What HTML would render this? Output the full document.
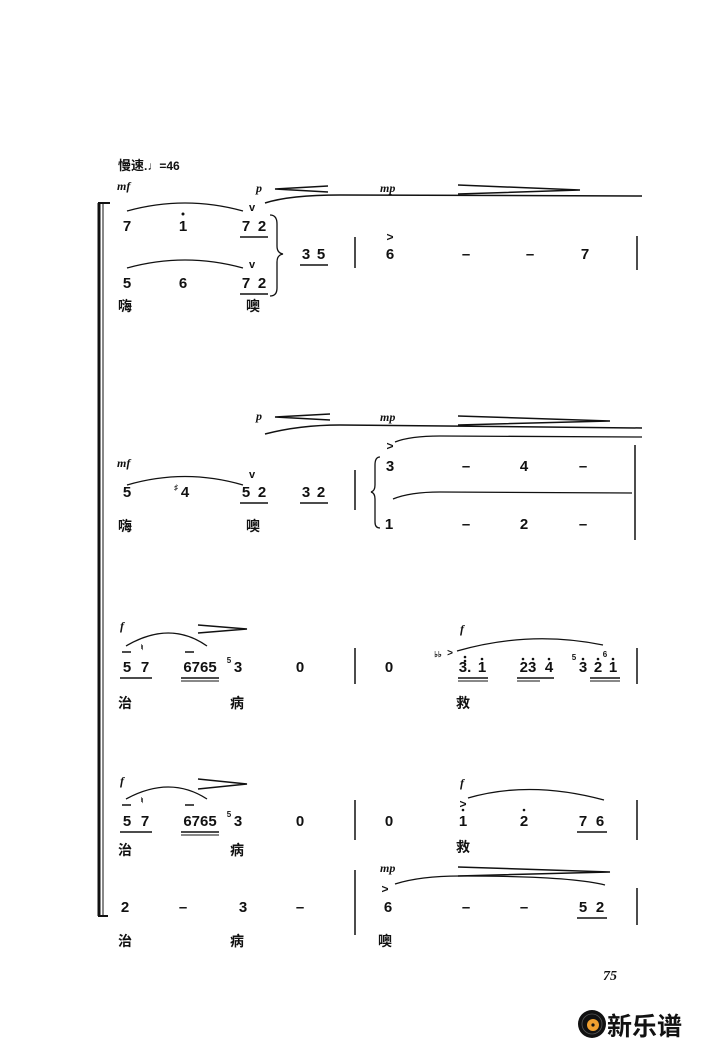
<!DOCTYPE html>
<html><head><meta charset="utf-8"><style>
html,body{margin:0;padding:0;background:#fff}
svg{display:block}
.n{font:bold 15px "Liberation Sans",sans-serif;text-anchor:middle;fill:#111}
.c{font:bold 14px "Liberation Sans","Noto Sans CJK SC",sans-serif;text-anchor:middle;fill:#111}
.d{font:italic bold 12px "Liberation Serif",serif;fill:#111}
.s{font:bold 8px "Liberation Sans",sans-serif;text-anchor:middle;fill:#111}
path,line{stroke:#111;fill:none}
</style></head><body>
<svg width="710" height="1048" viewBox="0 0 710 1048" xmlns="http://www.w3.org/2000/svg">
<!-- big left bracket -->
<line x1="99" y1="203" x2="99" y2="916" stroke-width="3"/>
<line x1="103" y1="203" x2="103" y2="916" stroke-width="1"/>
<line x1="98" y1="203" x2="110" y2="203" stroke-width="2"/>
<line x1="98" y1="916" x2="108" y2="916" stroke-width="2"/>

<!-- System 1 -->
<text x="118" y="170" class="c" style="text-anchor:start;font-size:13px">慢速<tspan font-size="12">.♩=46</tspan></text>
<text x="117" y="190" class="d">mf</text>
<text x="256" y="192" class="d">p</text>
<path d="M328 186 L275 189 L328 192" stroke-width="1.5"/>
<text x="380" y="192" class="d">mp</text>
<path d="M458 185 L580 190 L458 194" stroke-width="1.5"/>
<path d="M265 203 Q290 195 340 195 L642 196" stroke-width="1.5"/>
<path d="M127 211 Q185 195 243 211" stroke-width="1.3"/>
<text x="252" y="211" class="s" style="font-size:11px">v</text>
<path d="M127 268 Q185 252 243 268" stroke-width="1.3"/>
<text x="252" y="268" class="s" style="font-size:11px">v</text>
<text x="127" y="231" class="n">7</text><text x="183" y="231" class="n">1</text><circle cx="183" cy="214" r="1.5" fill="#111"/>
<text x="246" y="231" class="n">7</text><text x="262" y="231" class="n">2</text><line x1="240" y1="237" x2="268" y2="237" stroke-width="1.5"/>
<text x="127" y="288" class="n">5</text><text x="183" y="288" class="n">6</text>
<text x="246" y="288" class="n">7</text><text x="262" y="288" class="n">2</text><line x1="240" y1="294" x2="268" y2="294" stroke-width="1.5"/>
<path d="M270 215 Q277 215 277 224 L277 246 Q277 253 283 254 Q277 255 277 262 L277 288 Q277 296 270 296" stroke-width="1.3"/>
<text x="306" y="259" class="n">3</text><text x="321" y="259" class="n">5</text><line x1="300" y1="265" x2="328" y2="265" stroke-width="1.5"/>
<line x1="355" y1="237" x2="355" y2="268" stroke-width="1.5"/>
<text x="390" y="241" class="n" style="font-size:12px">&gt;</text>
<text x="390" y="259" class="n">6</text><text x="466" y="259" class="n">–</text><text x="530" y="259" class="n">–</text><text x="585" y="259" class="n">7</text>
<line x1="637" y1="236" x2="637" y2="270" stroke-width="1.5"/>
<text x="125" y="311" class="c">嗨</text><text x="253" y="311" class="c">噢</text>

<!-- System 2 -->
<text x="256" y="420" class="d">p</text>
<path d="M330 414 L275 417 L330 420" stroke-width="1.5"/>
<text x="380" y="421" class="d">mp</text>
<path d="M458 416 L610 421 L458 425" stroke-width="1.5"/>
<path d="M265 434 Q300 425 340 425 L642 428" stroke-width="1.5"/>
<path d="M395 442 Q410 436 440 436 L642 437" stroke-width="1.3"/>
<text x="117" y="467" class="d">mf</text>
<path d="M127 485 Q185 468 243 485" stroke-width="1.3"/>
<text x="252" y="478" class="s" style="font-size:11px">v</text>
<text x="127" y="497" class="n">5</text>
<text x="176" y="490" class="s">♯</text><text x="185" y="497" class="n">4</text>
<text x="246" y="497" class="n">5</text><text x="262" y="497" class="n">2</text><line x1="240" y1="503" x2="268" y2="503" stroke-width="1.5"/>
<text x="306" y="497" class="n">3</text><text x="321" y="497" class="n">2</text><line x1="300" y1="503" x2="328" y2="503" stroke-width="1.5"/>
<line x1="355" y1="470" x2="355" y2="510" stroke-width="1.5"/>
<path d="M380 457 Q375 457 375 465 L375 485 Q375 491 371 492 Q375 493 375 499 L375 522 Q375 528 380 528" stroke-width="1.3"/>
<text x="390" y="450" class="n" style="font-size:12px">&gt;</text>
<text x="390" y="471" class="n">3</text><text x="466" y="471" class="n">–</text><text x="524" y="471" class="n">4</text><text x="583" y="471" class="n">–</text>
<path d="M393 499 Q410 492 440 492 L632 493" stroke-width="1.3"/>
<text x="389" y="529" class="n">1</text><text x="466" y="529" class="n">–</text><text x="524" y="529" class="n">2</text><text x="583" y="529" class="n">–</text>
<line x1="635" y1="445" x2="635" y2="540" stroke-width="1.5"/>
<text x="125" y="531" class="c">嗨</text><text x="253" y="531" class="c">噢</text>

<!-- System 3 -->
<text x="120" y="630" class="d">f</text>
<path d="M198 625 L247 629 L198 633" stroke-width="1.5"/>
<path d="M126 646 Q170 620 207 646" stroke-width="1.3"/>
<line x1="122" y1="652" x2="131" y2="652" stroke-width="1.5"/><text x="142" y="650" class="s">♮</text>
<line x1="185" y1="652" x2="194" y2="652" stroke-width="1.5"/>
<text x="127" y="672" class="n">5</text><text x="145" y="672" class="n">7</text><line x1="120" y1="678" x2="152" y2="678" stroke-width="1.5"/>
<text x="200" y="672" class="n">6765</text><line x1="181" y1="678" x2="219" y2="678" stroke-width="1.5"/><line x1="181" y1="681" x2="219" y2="681" stroke-width="1"/>
<text x="229" y="663" class="s">5</text><text x="238" y="672" class="n">3</text>
<text x="300" y="672" class="n">0</text>
<line x1="355" y1="648" x2="355" y2="684" stroke-width="1.5"/>
<text x="389" y="672" class="n">0</text>
<text x="460" y="633" class="d">f</text>
<text x="438" y="657" class="s">♭♭</text><text x="450" y="656" class="s" style="font-size:10px">&gt;</text>
<path d="M457 651 Q530 630 603 645" stroke-width="1.3"/>
<text x="465" y="672" class="n">3.</text><text x="482" y="672" class="n">1</text>
<circle cx="465" cy="657" r="1.3" fill="#111"/><circle cx="465" cy="661" r="1.3" fill="#111"/><circle cx="482" cy="659" r="1.3" fill="#111"/>
<line x1="458" y1="678" x2="488" y2="678" stroke-width="1.5"/><line x1="458" y1="681" x2="488" y2="681" stroke-width="1"/>
<text x="528" y="672" class="n">23</text><text x="549" y="672" class="n">4</text>
<circle cx="523" cy="659" r="1.3" fill="#111"/><circle cx="533" cy="659" r="1.3" fill="#111"/><circle cx="549" cy="659" r="1.3" fill="#111"/>
<line x1="517" y1="678" x2="554" y2="678" stroke-width="1.5"/><line x1="517" y1="681" x2="540" y2="681" stroke-width="1"/>
<text x="574" y="660" class="s">5</text><text x="583" y="672" class="n">3</text><circle cx="583" cy="659" r="1.3" fill="#111"/>
<text x="598" y="672" class="n">2</text><text x="605" y="657" class="s">6</text><text x="613" y="672" class="n">1</text>
<circle cx="598" cy="659" r="1.3" fill="#111"/><circle cx="613" cy="659" r="1.3" fill="#111"/>
<line x1="590" y1="678" x2="620" y2="678" stroke-width="1.5"/><line x1="590" y1="681" x2="620" y2="681" stroke-width="1"/>
<line x1="637" y1="648" x2="637" y2="684" stroke-width="1.5"/>
<text x="125" y="708" class="c">治</text><text x="237" y="708" class="c">病</text><text x="463" y="708" class="c">救</text>

<!-- System 4 -->
<text x="120" y="785" class="d">f</text>
<path d="M198 779 L247 784 L198 789" stroke-width="1.5"/>
<path d="M126 799 Q170 775 207 799" stroke-width="1.3"/>
<line x1="122" y1="805" x2="131" y2="805" stroke-width="1.5"/><text x="142" y="803" class="s">♮</text>
<line x1="185" y1="805" x2="194" y2="805" stroke-width="1.5"/>
<text x="127" y="826" class="n">5</text><text x="145" y="826" class="n">7</text><line x1="120" y1="832" x2="152" y2="832" stroke-width="1.5"/>
<text x="200" y="826" class="n">6765</text><line x1="181" y1="832" x2="219" y2="832" stroke-width="1.5"/><line x1="181" y1="835" x2="219" y2="835" stroke-width="1"/>
<text x="229" y="817" class="s">5</text><text x="238" y="826" class="n">3</text>
<text x="300" y="826" class="n">0</text>
<line x1="355" y1="800" x2="355" y2="840" stroke-width="1.5"/>
<text x="389" y="826" class="n">0</text>
<text x="460" y="787" class="d">f</text>
<text x="463" y="808" class="n" style="font-size:12px">&gt;</text>
<path d="M468 798 Q530 780 604 800" stroke-width="1.3"/>
<text x="463" y="826" class="n">1</text><circle cx="463" cy="810" r="1.3" fill="#111"/>
<text x="524" y="826" class="n">2</text><circle cx="524" cy="810" r="1.3" fill="#111"/>
<text x="583" y="826" class="n">7</text><text x="600" y="826" class="n">6</text><line x1="577" y1="832" x2="607" y2="832" stroke-width="1.5"/>
<line x1="637" y1="800" x2="637" y2="840" stroke-width="1.5"/>
<text x="125" y="855" class="c">治</text><text x="237" y="855" class="c">病</text><text x="463" y="852" class="c">救</text>
<text x="380" y="872" class="d">mp</text>
<path d="M458 867 L610 872 L458 876" stroke-width="1.5"/>
<path d="M395 884 Q420 876 460 876 Q570 876 605 885" stroke-width="1.3"/>
<text x="385" y="893" class="n" style="font-size:12px">&gt;</text>
<text x="125" y="912" class="n">2</text><text x="183" y="912" class="n">–</text><text x="243" y="912" class="n">3</text><text x="300" y="912" class="n">–</text>
<line x1="355" y1="870" x2="355" y2="935" stroke-width="1.5"/>
<text x="388" y="912" class="n">6</text><text x="466" y="912" class="n">–</text><text x="524" y="912" class="n">–</text>
<text x="583" y="912" class="n">5</text><text x="600" y="912" class="n">2</text><line x1="577" y1="918" x2="607" y2="918" stroke-width="1.5"/>
<line x1="637" y1="888" x2="637" y2="925" stroke-width="1.5"/>
<text x="125" y="946" class="c">治</text><text x="237" y="946" class="c">病</text><text x="385" y="946" class="c">噢</text>

<text x="603" y="980" style="font:italic bold 14px 'Liberation Serif',serif;fill:#111">75</text>

<!-- logo -->
<circle cx="592" cy="1024" r="14" fill="#111"/>
<circle cx="592" cy="1024" r="10" fill="none" stroke="#555" stroke-width="0.8"/>
<circle cx="593" cy="1025" r="6" fill="#f0a030"/>
<circle cx="593" cy="1025" r="1.6" fill="#111"/>
<text x="607" y="1035" style="font:bold 25px 'Noto Sans CJK SC',sans-serif;fill:#111">新乐谱</text>
</svg>
</body></html>
